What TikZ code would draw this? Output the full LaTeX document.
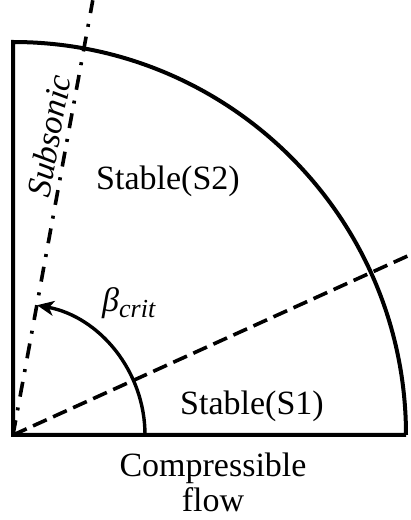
\documentclass[tikz,border=0pt]{standalone}
\usepackage{fontspec}
\setmainfont{Liberation Serif}
\usetikzlibrary{arrows.meta,calc}
\tikzset{
  outline/.style={line width=4pt, line join=miter},
  divider/.style={line width=3.6pt, dash pattern=on 15pt off 7pt},
  dashdotline/.style={line width=3.6pt, dash pattern=on 15pt off 10pt on 3pt off 11pt},
  anglearrow/.style={line width=3.4pt, -{Stealth[length=17pt,width=15pt,inset=5pt]}},
  lbl/.style={inner sep=0pt, font=\fontsize{34}{33}\selectfont}
}
\begin{document}
\begin{tikzpicture}[x=1pt,y=1pt]
\useasboundingbox (0,0) rectangle (411,520);
\coordinate (O) at (13,85);
\coordinate (R) at (406,85);
\coordinate (T) at (13,478);
\coordinate (D) at ($(O)+(24.4:437)$);
\coordinate (C) at ($(O)+(79.6:442)$);
\draw[outline] (R) -- (O) -- (T) arc[start angle=90,end angle=0,radius=393];
\draw[divider] (O) -- (D);
\draw[dashdotline] (O) -- (C);
\coordinate (A0) at (145,85);
\draw[anglearrow] (A0) arc[start angle=0,end angle=79.5,radius=132];
\node[lbl, anchor=base] (s2) at (168,330) {Stable(S2)};
\node[lbl, anchor=base] (s1) at (252,105) {Stable(S1)};
\node[lbl, align=center, anchor=north] (cf) at (213,67) {Compressible\\[2pt]flow};
\node[lbl, rotate=79.6] (sub) at (49,384) {\itshape Subsonic};
\node[lbl, anchor=base west] (beta) at (102,208) {\itshape β\raisebox{-6pt}{\fontsize{26}{26}\selectfont crit}};
\end{tikzpicture}
\end{document}
